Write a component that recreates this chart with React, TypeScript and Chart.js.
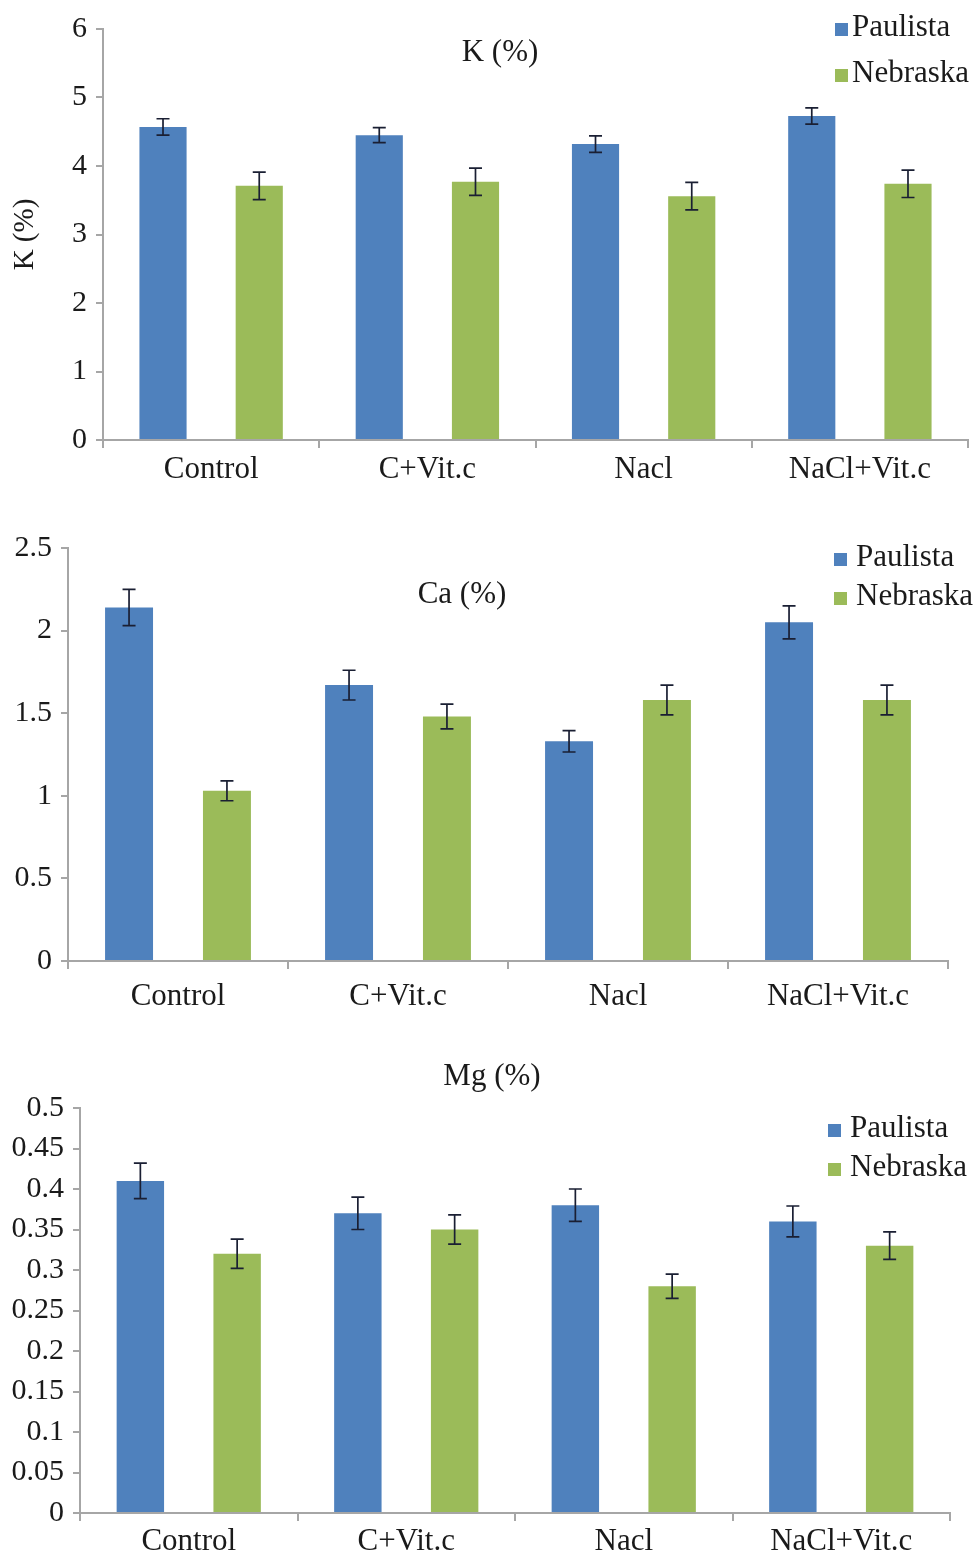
import React, { useEffect, useRef } from "react";
import { Chart, registerables } from "chart.js";

Chart.register(...registerables);

// ---------- DATA ----------
const CATEGORIES = ["Control", "C+Vit.c", "Nacl", "NaCl+Vit.c"];
const SERIES_NAMES = ["Paulista", "Nebraska"];

const K_PAULISTA = [4.57, 4.45, 4.32, 4.73];
const K_NEBRASKA = [3.71, 3.77, 3.56, 3.74];
const K_PAULISTA_ERR = [0.12, 0.11, 0.12, 0.12];
const K_NEBRASKA_ERR = [0.2, 0.2, 0.2, 0.2];
const K_TICKS = [0, 1, 2, 3, 4, 5, 6];

const CA_PAULISTA = [2.14, 1.67, 1.33, 2.05];
const CA_NEBRASKA = [1.03, 1.48, 1.58, 1.58];
const CA_PAULISTA_ERR = [0.11, 0.09, 0.065, 0.1];
const CA_NEBRASKA_ERR = [0.06, 0.075, 0.09, 0.09];
const CA_TICKS = [0, 0.5, 1, 1.5, 2, 2.5];

const MG_PAULISTA = [0.41, 0.37, 0.38, 0.36];
const MG_NEBRASKA = [0.32, 0.35, 0.28, 0.33];
const MG_PAULISTA_ERR = [0.022, 0.02, 0.02, 0.019];
const MG_NEBRASKA_ERR = [0.018, 0.018, 0.015, 0.017];
const MG_TICKS = [0, 0.05, 0.1, 0.15, 0.2, 0.25, 0.3, 0.35, 0.4, 0.45, 0.5];

// ---------- STYLE ----------
const BLUE = "#4F81BD";
const GREEN = "#9BBB59";
const AXIS = "#a6a6a6";
const TEXT = "#1a1a1a";
const FONT = "'Liberation Serif', 'Times New Roman', serif";

const overlayPlugin = {
  id: "overlay",
  afterDatasetsDraw(chart: any) {
    const ctx = chart.ctx;
    const ys = chart.scales.y;
    ctx.save();
    ctx.strokeStyle = "#1a1f33";
    ctx.lineWidth = 1.7;
    chart.data.datasets.forEach((ds: any, di: number) => {
      const meta = chart.getDatasetMeta(di);
      meta.data.forEach((bar: any, i: number) => {
        const v = ds.data[i];
        const e = ds.errors[i];
        const x = bar.x;
        const t = ys.getPixelForValue(v + e);
        const b = ys.getPixelForValue(v - e);
        const cap = 6.5;
        ctx.beginPath();
        ctx.moveTo(x, t);
        ctx.lineTo(x, b);
        ctx.moveTo(x - cap, t);
        ctx.lineTo(x + cap, t);
        ctx.moveTo(x - cap, b);
        ctx.lineTo(x + cap, b);
        ctx.stroke();
      });
    });
    ctx.restore();
  },
  afterDraw(chart: any, _args: any, opts: any) {
    const ctx = chart.ctx;
    ctx.save();
    ctx.fillStyle = TEXT;
    ctx.font = `31px ${FONT}`;
    ctx.textAlign = "center";
    ctx.textBaseline = "middle";
    ctx.fillText(opts.title, opts.titleX, opts.titleY);
    // legend
    ctx.font = `31px ${FONT}`;
    ctx.textAlign = "left";
    chart.data.datasets.forEach((ds: any, i: number) => {
      const cy = opts.legendY + i * opts.legendGap;
      ctx.fillStyle = ds.backgroundColor;
      ctx.fillRect(opts.legendX, cy - 5, 13, 13);
      ctx.fillStyle = TEXT;
      ctx.fillText(ds.label, opts.legendX + opts.legendTextGap, cy);
    });
    ctx.restore();
  },
};

type PanelCfg = {
  top: number;
  height: number;
  yAxisWidth: number;
  xAxisHeight: number;
  xLabelPad: number;
  padTop: number;
  padRight: number;
  paulista: number[];
  nebraska: number[];
  paulistaErr: number[];
  nebraskaErr: number[];
  ticks: number[];
  yTitle?: string;
  title: string;
  titleX: number;
  titleY: number;
  legendX: number;
  legendY: number;
  legendGap: number;
  legendTextGap: number;
};

function BarPanel({ cfg }: { cfg: PanelCfg }) {
  const ref = useRef<HTMLCanvasElement>(null);
  useEffect(() => {
    const ticks = cfg.ticks;
    const chart = new Chart(ref.current as HTMLCanvasElement, {
      type: "bar",
      data: {
        labels: CATEGORIES,
        datasets: [
          {
            label: SERIES_NAMES[0],
            data: cfg.paulista,
            errors: cfg.paulistaErr,
            backgroundColor: BLUE,
            categoryPercentage: 0.89,
            barPercentage: 0.49,
          } as any,
          {
            label: SERIES_NAMES[1],
            data: cfg.nebraska,
            errors: cfg.nebraskaErr,
            backgroundColor: GREEN,
            categoryPercentage: 0.89,
            barPercentage: 0.49,
          } as any,
        ],
      },
      options: {
        animation: false,
        responsive: false,
        maintainAspectRatio: false,
        layout: { padding: { top: cfg.padTop, right: cfg.padRight, left: 0, bottom: 0 } },
        plugins: {
          legend: { display: false },
          tooltip: { enabled: false },
          title: { display: false },
          overlay: {
            title: cfg.title,
            titleX: cfg.titleX,
            titleY: cfg.titleY,
            legendX: cfg.legendX,
            legendY: cfg.legendY,
            legendGap: cfg.legendGap,
            legendTextGap: cfg.legendTextGap,
          },
        } as any,
        scales: {
          x: {
            grid: {
              display: true,
              drawOnChartArea: false,
              drawTicks: true,
              tickLength: 8,
              color: AXIS,
              lineWidth: 2,
              offset: true,
            },
            border: { display: true, color: AXIS, width: 2 },
            ticks: {
              color: TEXT,
              font: { family: FONT, size: 31 },
              padding: cfg.xLabelPad,
              maxRotation: 0,
              autoSkip: false,
            },
            afterFit: (s: any) => {
              s.height = cfg.xAxisHeight;
            },
          },
          y: {
            min: ticks[0],
            max: ticks[ticks.length - 1],
            afterBuildTicks: (s: any) => {
              s.ticks = ticks.map((v) => ({ value: v }));
            },
            grid: {
              display: true,
              drawOnChartArea: false,
              drawTicks: true,
              tickLength: 7,
              color: AXIS,
              lineWidth: 2,
            },
            border: { display: true, color: AXIS, width: 2 },
            ticks: {
              color: TEXT,
              font: { family: FONT, size: 30 },
              padding: 9,
              callback: (v: any) => String(v),
            },
            title: cfg.yTitle
              ? {
                  display: true,
                  text: cfg.yTitle,
                  color: TEXT,
                  font: { family: FONT, size: 29 },
                  padding: { top: 8, bottom: 0 },
                }
              : { display: false },
            afterFit: (s: any) => {
              s.width = cfg.yAxisWidth;
            },
          },
        },
      },
      plugins: [overlayPlugin],
    });
    return () => chart.destroy();
  }, []);
  return (
    <canvas
      ref={ref}
      width={977}
      height={cfg.height}
      style={{ position: "absolute", left: 0, top: cfg.top, width: 977, height: cfg.height }}
    />
  );
}

const PANELS: PanelCfg[] = [
  {
    top: 0,
    height: 500,
    yAxisWidth: 103,
    xAxisHeight: 60,
    xLabelPad: 3,
    padTop: 29,
    padRight: 9,
    paulista: K_PAULISTA,
    nebraska: K_NEBRASKA,
    paulistaErr: K_PAULISTA_ERR,
    nebraskaErr: K_NEBRASKA_ERR,
    ticks: K_TICKS,
    yTitle: "K (%)",
    title: "K (%)",
    titleX: 500,
    titleY: 53,
    legendX: 835,
    legendY: 28,
    legendGap: 46,
    legendTextGap: 17,
  },
  {
    top: 520,
    height: 500,
    yAxisWidth: 68,
    xAxisHeight: 59,
    xLabelPad: 9,
    padTop: 28,
    padRight: 29,
    paulista: CA_PAULISTA,
    nebraska: CA_NEBRASKA,
    paulistaErr: CA_PAULISTA_ERR,
    nebraskaErr: CA_NEBRASKA_ERR,
    ticks: CA_TICKS,
    title: "Ca (%)",
    titleX: 462,
    titleY: 75,
    legendX: 834,
    legendY: 38,
    legendGap: 39,
    legendTextGap: 22,
  },
  {
    top: 1040,
    height: 516,
    yAxisWidth: 80,
    xAxisHeight: 43,
    xLabelPad: 2,
    padTop: 68,
    padRight: 27,
    paulista: MG_PAULISTA,
    nebraska: MG_NEBRASKA,
    paulistaErr: MG_PAULISTA_ERR,
    nebraskaErr: MG_NEBRASKA_ERR,
    ticks: MG_TICKS,
    title: "Mg (%)",
    titleX: 492,
    titleY: 37,
    legendX: 828,
    legendY: 89,
    legendGap: 39,
    legendTextGap: 22,
  },
];

export default function App() {
  return (
    <div
      style={{
        position: "absolute",
        left: 0,
        top: 0,
        width: 977,
        height: 1556,
        background: "#ffffff",
      }}
    >
      {PANELS.map((p, i) => (
        <BarPanel key={i} cfg={p} />
      ))}
    </div>
  );
}
